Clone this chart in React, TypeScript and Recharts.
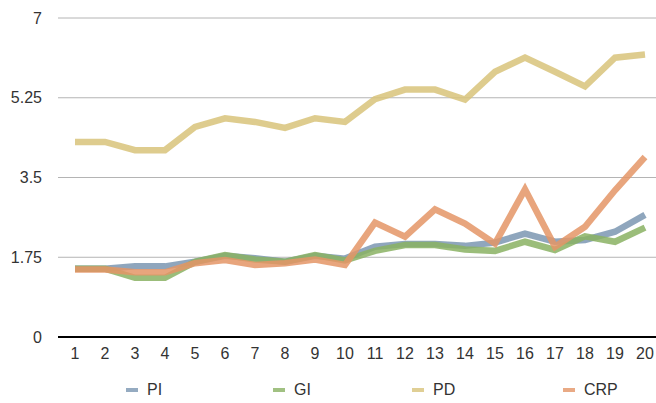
import React from "react";
import { LineChart, Line, XAxis, YAxis, CartesianGrid } from "recharts";

const categories = ["1","2","3","4","5","6","7","8","9","10","11","12","13","14","15","16","17","18","19","20"];
const piValues = [1.5, 1.5, 1.55, 1.55, 1.65, 1.78, 1.73, 1.65, 1.78, 1.72, 1.98, 2.04, 2.04, 2.0, 2.07, 2.27, 2.09, 2.13, 2.31, 2.68];
const giValues = [1.5, 1.5, 1.3, 1.3, 1.65, 1.8, 1.7, 1.65, 1.8, 1.68, 1.89, 2.02, 2.02, 1.92, 1.89, 2.09, 1.91, 2.21, 2.09, 2.4];
const pdValues = [4.28, 4.28, 4.1, 4.1, 4.61, 4.8, 4.72, 4.59, 4.8, 4.72, 5.22, 5.43, 5.43, 5.21, 5.82, 6.13, 5.82, 5.5, 6.13, 6.2];
const crpValues = [1.48, 1.48, 1.42, 1.42, 1.62, 1.69, 1.58, 1.62, 1.7, 1.58, 2.51, 2.2, 2.8, 2.49, 2.05, 3.24, 1.98, 2.42, 3.22, 3.95];
const yTicks = [0, 1.75, 3.5, 5.25, 7];

const seriesNames = ["PI", "GI", "PD", "CRP"];
const seriesColors = ["#7b96b2", "#8ab163", "#d8c37a", "#e49566"];
const seriesValues = [piValues, giValues, pdValues, crpValues];

const data = categories.map((c, i) => {
  const row: Record<string, string | number> = { name: c };
  seriesNames.forEach((s, k) => {
    row[s] = seriesValues[k][i];
  });
  return row;
});

const FONT = '"Liberation Sans", Arial, Helvetica, sans-serif';
const legendLeft = [126, 273, 412, 563];

function ChartLegend() {
  return (
    <div style={{ position: "absolute", left: 0, top: 380, width: 656, height: 20 }}>
      {seriesNames.map((name, i) => (
        <div
          key={name}
          style={{
            position: "absolute",
            left: legendLeft[i],
            top: 0,
            height: 20,
            display: "flex",
            alignItems: "center",
            fontFamily: FONT,
            fontSize: 16,
            color: "#333",
          }}
        >
          <span
            style={{
              display: "inline-block",
              width: 12,
              height: 4,
              background: seriesColors[i],
              opacity: 0.8,
              marginRight: 9,
            }}
          />
          <span>{name}</span>
        </div>
      ))}
    </div>
  );
}

export default function App() {
  return (
    <div
      style={{
        position: "absolute",
        left: 0,
        top: 0,
        width: 656,
        height: 403,
        overflow: "hidden",
        background: "#fff",
      }}
    >
      <LineChart
        width={660}
        height={403}
        data={data}
        margin={{ top: 18, right: 0, bottom: 36, left: 0 }}
      >
        <CartesianGrid vertical={false} stroke="#b4b4b4" strokeWidth={1} />
        <XAxis
          dataKey="name"
          interval={0}
          padding={{ left: 17, right: 15 }}
          tickLine={false}
          tickSize={0}
          tickMargin={11}
          height={30}
          axisLine={{ stroke: "#000", strokeWidth: 2 }}
          tick={{ fill: "#333", fontSize: 16, fontFamily: FONT }}
        />
        <YAxis
          domain={[0, 7]}
          ticks={yTicks}
          interval={0}
          width={58}
          axisLine={false}
          tickLine={false}
          tickSize={0}
          tickMargin={16}
          tick={{ fill: "#333", fontSize: 16, fontFamily: FONT }}
        />
        {seriesNames.map((s, k) => (
          <Line
            key={s}
            type="linear"
            dataKey={s}
            stroke={seriesColors[k]}
            strokeWidth={6.5}
            strokeOpacity={0.85}
            strokeLinejoin="miter"
            strokeLinecap="butt"
            dot={false}
            activeDot={false}
            isAnimationActive={false}
          />
        ))}
      </LineChart>
      <ChartLegend />
    </div>
  );
}
